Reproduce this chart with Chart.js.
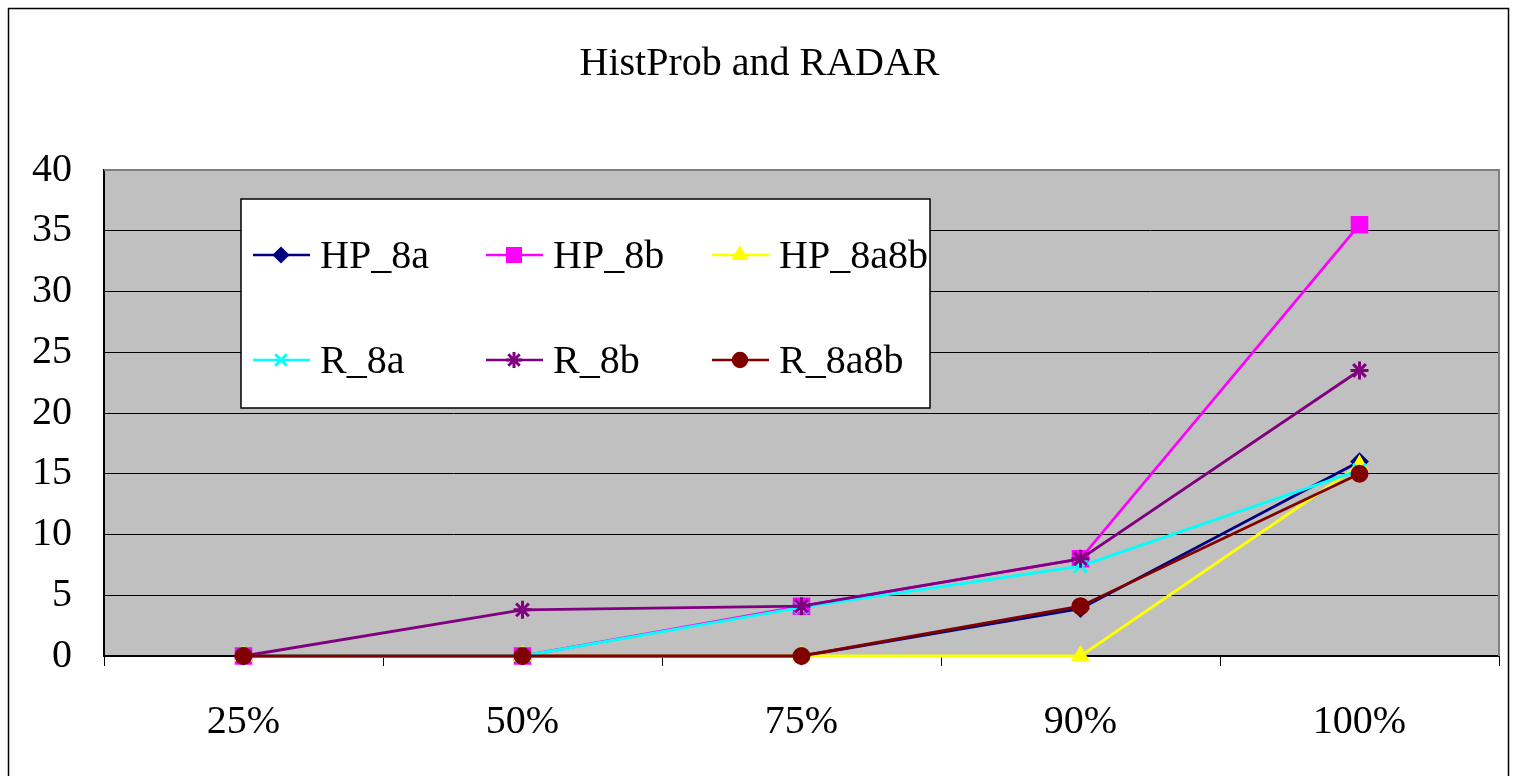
<!DOCTYPE html>
<html>
<head>
<meta charset="utf-8">
<title>HistProb and RADAR</title>
<script src="https://cdn.jsdelivr.net/npm/chart.js@4/dist/chart.umd.min.js"></script>
<style>
  html, body { margin: 0; padding: 0; background: #fff; }
  canvas { display: block; }
</style>
</head>
<body>
<canvas id="lineChart" width="1517" height="776"></canvas>
<script>
// Data
const categories = ['25%', '50%', '75%', '90%', '100%'];
const yTickValues = [0, 5, 10, 15, 20, 25, 30, 35, 40];

const hp8a = [0, 0, 0, 3.9, 16];
const hp8b = [0, 0, 4.1, 8, 35.5];
const hp8a8b = [0, 0, 0, 0, 15.7];
const r8a = [0, 0, 4, 7.4, 15.3];
const r8b = [0, 3.8, 4.1, 8, 23.5];
const r8a8b = [0, 0, 0, 4.1, 15];

const seriesNames = ['HP_8a', 'HP_8b', 'HP_8a8b', 'R_8a', 'R_8b', 'R_8a8b'];
const seriesValues = [hp8a, hp8b, hp8a8b, r8a, r8b, r8a8b];
const seriesColors = ['#000080', '#FF00FF', '#FFFF00', '#00FFFF', '#800080', '#800000'];
const seriesMarkers = ['rectRot', 'rect', 'triangle', 'crossRot', 'star', 'circle'];
const markerSizes = [8, 11, 9, 9, 9, 8];
const markerBorders = [2, 2, 2, 3, 3, 2];

const FONT = "'Liberation Serif', 'Times New Roman', serif";

// White page, outer frame and grey plot area
const chartBackground = {
  id: 'chartBackground',
  beforeDraw(chart) {
    const ctx = chart.ctx;
    const a = chart.chartArea;
    ctx.save();
    ctx.fillStyle = '#ffffff';
    ctx.fillRect(0, 0, chart.width, chart.height);
    ctx.strokeStyle = '#000000';
    ctx.lineWidth = 1.5;
    ctx.strokeRect(8.5, 8.5, 1500, chart.height + 10);
    ctx.fillStyle = '#C0C0C0';
    ctx.fillRect(a.left, a.top, a.right - a.left, a.bottom - a.top);
    ctx.restore();
  }
};

// Grey frame round the plot area (top and right)
const plotFrame = {
  id: 'plotFrame',
  beforeDatasetsDraw(chart) {
    const ctx = chart.ctx;
    const a = chart.chartArea;
    ctx.save();
    ctx.strokeStyle = '#808080';
    ctx.lineWidth = 2;
    ctx.beginPath();
    ctx.moveTo(a.left, a.top);
    ctx.lineTo(a.right, a.top);
    ctx.lineTo(a.right, a.bottom);
    ctx.stroke();
    ctx.restore();
  }
};

// Boxed legend inside the plot, 3 columns x 2 rows
const insideLegend = {
  id: 'insideLegend',
  afterDraw(chart) {
    const ctx = chart.ctx;
    const a = chart.chartArea;
    const boxX = a.left + 137;
    const boxY = a.top + 29;
    const colOffsets = [12, 245, 471];
    const rowOffsets = [56, 161];
    ctx.save();
    ctx.fillStyle = '#ffffff';
    ctx.fillRect(boxX, boxY, 689, 209);
    ctx.strokeStyle = '#000000';
    ctx.lineWidth = 1.5;
    ctx.strokeRect(boxX, boxY, 689, 209);

    chart.data.datasets.forEach((ds, i) => {
      const x0 = boxX + colOffsets[i % 3];
      const y0 = boxY + rowOffsets[Math.floor(i / 3)];
      ctx.strokeStyle = ds.borderColor;
      ctx.fillStyle = ds.borderColor;
      ctx.lineWidth = 2.5;
      ctx.beginPath();
      ctx.moveTo(x0, y0);
      ctx.lineTo(x0 + 57, y0);
      ctx.stroke();
      ctx.lineWidth = ds.pointBorderWidth;
      if (Chart.helpers && Chart.helpers.drawPoint) {
        Chart.helpers.drawPoint(ctx, {
          pointStyle: ds.pointStyle,
          radius: ds.pointRadius * 0.9,
          rotation: 0,
          borderWidth: ds.pointBorderWidth
        }, x0 + 28, y0);
      } else {
        ctx.beginPath();
        ctx.arc(x0 + 28, y0, 7, 0, Math.PI * 2);
        ctx.fill();
      }
      ctx.fillStyle = '#000000';
      ctx.font = '40px ' + FONT;
      ctx.textAlign = 'left';
      ctx.textBaseline = 'middle';
      ctx.fillText(ds.label, x0 + 67, y0 + 2);
    });
    ctx.restore();
  }
};

const datasets = seriesNames.map((name, i) => ({
  label: name,
  data: seriesValues[i],
  borderColor: seriesColors[i],
  backgroundColor: seriesColors[i],
  pointBackgroundColor: seriesColors[i],
  pointBorderColor: seriesColors[i],
  pointStyle: seriesMarkers[i],
  pointRadius: markerSizes[i],
  pointBorderWidth: markerBorders[i],
  borderWidth: 2.8,
  tension: 0,
  fill: false,
  clip: false,
  order: seriesNames.length - i
}));

const ctx = document.getElementById('lineChart').getContext('2d');
new Chart(ctx, {
  type: 'line',
  data: {
    labels: categories,
    datasets: datasets
  },
  options: {
    responsive: false,
    animation: false,
    layout: {
      padding: { left: 20, right: 18, top: 0, bottom: 0 }
    },
    plugins: {
      legend: { display: false },
      tooltip: { enabled: false },
      title: {
        display: true,
        text: 'HistProb and RADAR',
        color: '#000000',
        font: { family: FONT, size: 40, weight: 'normal', lineHeight: 1.2 },
        padding: { top: 40, bottom: 82 }
      }
    },
    scales: {
      x: {
        offset: true,
        grid: {
          offset: true,
          drawOnChartArea: false,
          drawTicks: true,
          tickLength: 10,
          color: '#000000',
          lineWidth: 1
        },
        border: { color: '#000000', width: 2 },
        ticks: {
          color: '#000000',
          padding: 32,
          font: { family: FONT, size: 40, lineHeight: 1.2 }
        },
        afterFit(scale) { scale.height = 120; }
      },
      y: {
        min: yTickValues[0],
        max: yTickValues[yTickValues.length - 1],
        grid: {
          drawTicks: false,
          color: '#000000',
          lineWidth: 1
        },
        border: { color: '#000000', width: 2 },
        ticks: {
          stepSize: yTickValues[1] - yTickValues[0],
          color: '#000000',
          padding: 32,
          font: { family: FONT, size: 40, lineHeight: 1.2 }
        },
        afterFit(scale) { scale.width = 84; }
      }
    }
  },
  plugins: [chartBackground, plotFrame, insideLegend]
});
</script>
</body>
</html>
